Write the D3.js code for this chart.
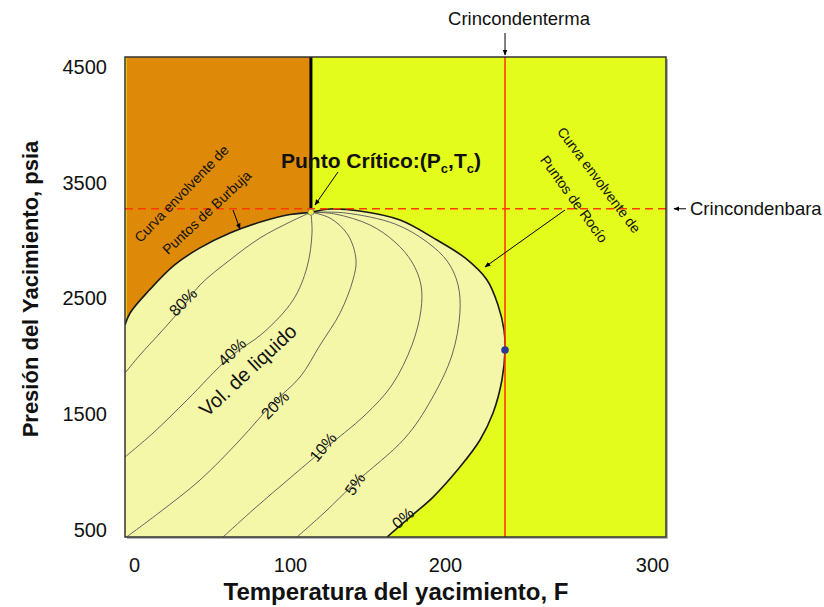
<!DOCTYPE html>
<html>
<head>
<meta charset="utf-8">
<script src="https://cdn.jsdelivr.net/npm/d3@7"></script>
<style>
  body { margin: 0; background: #fff; }
  svg text { font-family: "Liberation Sans", Arial, sans-serif; }
</style>
</head>
<body>
<div id="chart"></div>
<script>
// --- data: [temperature F, pressure psia]
var bubblePts = [[-6,2270],[-2.6,2375],[10,2575],[26,2790],[42,2935],[61.5,3065],[81,3160],[100,3225],[113.5,3245]];
var dewPts = [[113.5,3245],[125.8,3273],[145,3256],[171,3178],[194.8,3005],[209.7,2850],[220.3,2660],[225.6,2444],
              [228.5,2228],[229,2055],[227.5,1796],[223.2,1511],[216.9,1278],[207.2,1044],[192.3,785],[177.4,612],[162.6,440]];
var q80 = [[113.5,3245],[100,3161],[80.8,3023],[61.5,2833],[42.3,2617],[31.4,2427],[16.7,2202],[3.8,2012],[-6,1856]];
var q40 = [[113.5,3245],[114.2,3066],[111,2772],[102,2487],[82.7,2202],[61.5,1995],[34,1623],[12.2,1338],[-6,1131]];
var q20 = [[113.5,3245],[125.8,3195],[137.4,3049],[142.6,2833],[140.6,2660],[132.3,2375],[119.4,2098],[106.5,1822],
           [89.1,1597],[67.9,1278],[42.3,932],[16.7,656],[-5,440]];
var q10 = [[113.5,3245],[129,3230],[151.6,3135],[167.7,2988],[178.7,2815],[184.5,2617],[184.5,2401],[178.7,2098],
           [165.8,1753],[148.4,1493],[121.3,1191],[100,949],[77.6,690],[57.1,440]];
var q5 = [[113.5,3245],[135.5,3239],[167.7,3144],[188.4,2988],[201.4,2815],[206.3,2617],[207.2,2375],[203.4,2012],
          [191,1623],[174.2,1295],[141.9,906],[122.6,656],[104.5,440]];
var qualityLabels = ["80%","40%","20%","10%","5%","0%"];
var critical = [113.5,3245];
var cricondenbar = 3275;
var cricondentherm = 229;
var cricondenthermP = 2055;
var xTicks = [0,100,200,300];
var yTicks = [500,1500,2500,3500,4500];

var svg = d3.select("#chart").append("svg")
    .attr("width",824)
    .attr("height",607);

// x labels on the picture are not evenly spaced, so the scale is piecewise
var x = d3.scaleLinear()
    .domain([-6,0,100,200,300,307])
    .range([125,134,290,445,652,666]);
var y = d3.scaleLinear()
    .domain([440,4586])
    .range([537,57]);

var pLeft = x(-6), pRight = x(307), pTop = y(4586), pBottom = y(440);

var defs = svg.append("defs");
defs.append("clipPath").attr("id","plotclip")
    .append("rect").attr("x",pLeft).attr("y",pTop).attr("width",pRight-pLeft).attr("height",pBottom-pTop);
defs.append("marker")
    .attr("id","arrow")
    .attr("viewBox","0 0 10 10")
    .attr("refX",9).attr("refY",5)
    .attr("markerWidth",6).attr("markerHeight",6)
    .attr("orient","auto")
    .append("path").attr("d","M0,1 L10,5 L0,9 z").attr("fill","#000");

// shadow + backgrounds
svg.append("rect").attr("x",pLeft+2).attr("y",pTop+2).attr("width",pRight-pLeft).attr("height",pBottom-pTop).attr("fill","#b5b5b5");
var plot = svg.append("g").attr("clip-path","url(#plotclip)");
plot.append("rect").attr("x",pLeft).attr("y",pTop).attr("width",pRight-pLeft).attr("height",pBottom-pTop).attr("fill","#e4fc1c");
plot.append("rect").attr("x",pLeft+1.5).attr("y",pTop).attr("width",x(critical[0])-pLeft-1.5).attr("height",pBottom-pTop).attr("fill","#de8a08");

var line = d3.line()
    .x(function(d){ return x(d[0]); })
    .y(function(d){ return y(d[1]); })
    .curve(d3.curveCatmullRom.alpha(0.5));

var envelope = bubblePts.concat(dewPts.slice(1));
plot.append("path")
    .attr("d", line(envelope) + "L" + x(-6) + "," + y(440) + "Z")
    .attr("fill","#f4f6a8");

// quality lines
var qLines = [q80,q40,q20,q10,q5];
plot.selectAll(".qline").data(qLines).enter().append("path")
    .attr("class","qline")
    .attr("d",line)
    .attr("fill","none")
    .attr("stroke","#555")
    .attr("stroke-width",0.9);

// envelope outline
plot.append("path")
    .attr("d",line(envelope))
    .attr("fill","none")
    .attr("stroke","#1a1a1a")
    .attr("stroke-width",1.6);

// thick black line above the critical point
plot.append("line")
    .attr("x1",x(critical[0])).attr("x2",x(critical[0]))
    .attr("y1",pTop).attr("y2",y(critical[1]))
    .attr("stroke","#000").attr("stroke-width",3);

// cricondenbar / cricondentherm
plot.append("line")
    .attr("x1",pLeft).attr("x2",pRight)
    .attr("y1",y(cricondenbar)).attr("y2",y(cricondenbar))
    .attr("stroke","#ff3a00").attr("stroke-width",1.5)
    .attr("stroke-dasharray","8,5");
plot.append("line")
    .attr("x1",x(cricondentherm)).attr("x2",x(cricondentherm))
    .attr("y1",pTop).attr("y2",pBottom)
    .attr("stroke","#ff3a00").attr("stroke-width",1.6);

plot.append("circle")
    .attr("cx",x(cricondentherm)).attr("cy",y(cricondenthermP)).attr("r",3.8)
    .attr("fill","#2a3899");
plot.append("circle")
    .attr("cx",x(critical[0])).attr("cy",y(critical[1])).attr("r",3)
    .attr("fill","#eef23a").attr("stroke","#777").attr("stroke-width",0.8);

// plot frame
svg.append("rect").attr("x",pLeft).attr("y",pTop).attr("width",pRight-pLeft).attr("height",pBottom-pTop)
    .attr("fill","none").attr("stroke","#333").attr("stroke-width",1.5);

// quality labels
var labelSpots = [[31.4,2470,-45],[62.8,2038,-45],[90.4,1580,-45],[121.3,1217,-50],[141.9,897,-55],[172.9,604,-40]];
svg.selectAll(".qlabel").data(qualityLabels).enter().append("text")
    .attr("class","qlabel")
    .attr("transform",function(d,i){ var s = labelSpots[i]; return "translate("+x(s[0])+","+y(s[1])+") rotate("+s[2]+")"; })
    .attr("text-anchor","middle")
    .attr("dy","0.35em")
    .attr("font-size",16)
    .attr("fill","#111")
    .text(function(d){ return d; });

svg.append("text")
    .attr("transform","translate("+x(73)+","+y(1880)+") rotate(-43)")
    .attr("text-anchor","middle").attr("dy","0.35em")
    .attr("font-size",20).attr("fill","#111")
    .text("Vol. de liquido");

// bubble point annotation
svg.append("text")
    .attr("transform","translate(185,197) rotate(-46)")
    .attr("text-anchor","middle")
    .attr("font-size",14).attr("fill","#111")
    .text("Curva envolvente de");
svg.append("text")
    .attr("transform","translate(210,216) rotate(-43)")
    .attr("text-anchor","middle")
    .attr("font-size",14).attr("fill","#111")
    .text("Puntos de Burbuja");
svg.append("line")
    .attr("x1",233).attr("y1",210).attr("x2",240).attr("y2",229)
    .attr("stroke","#000").attr("stroke-width",1)
    .attr("marker-end","url(#arrow)");

// dew point annotation
svg.append("text")
    .attr("transform","translate(599,180) rotate(53)")
    .attr("text-anchor","middle").attr("dy","0.35em")
    .attr("font-size",14).attr("fill","#111")
    .text("Curva envolvente de");
svg.append("text")
    .attr("transform","translate(574,199) rotate(54)")
    .attr("text-anchor","middle").attr("dy","0.35em")
    .attr("font-size",14).attr("fill","#111")
    .text("Puntos de Rocío");
svg.append("line")
    .attr("x1",565).attr("y1",210).attr("x2",485).attr("y2",267)
    .attr("stroke","#000").attr("stroke-width",1)
    .attr("marker-end","url(#arrow)");

// critical point label
var pc = svg.append("text")
    .attr("x",381).attr("y",168)
    .attr("text-anchor","middle")
    .attr("font-size",21).attr("font-weight","bold").attr("fill","#111");
pc.append("tspan").text("Punto Crítico:(P");
pc.append("tspan").attr("font-size",13).attr("dy",5).text("c");
pc.append("tspan").attr("dy",-5).text(",T");
pc.append("tspan").attr("font-size",13).attr("dy",5).text("c");
pc.append("tspan").attr("dy",-5).text(")");
svg.append("line")
    .attr("x1",338).attr("y1",172).attr("x2",315).attr("y2",205)
    .attr("stroke","#000").attr("stroke-width",1)
    .attr("marker-end","url(#arrow)");

// cricondentherm / cricondenbar labels
svg.append("text")
    .attr("x",x(cricondentherm)+14).attr("y",25)
    .attr("text-anchor","middle").attr("font-size",18.5).attr("fill","#111")
    .text("Crincondenterma");
svg.append("line")
    .attr("x1",x(cricondentherm)).attr("y1",33).attr("x2",x(cricondentherm)).attr("y2",55)
    .attr("stroke","#000").attr("stroke-width",1)
    .attr("marker-end","url(#arrow)");
svg.append("text")
    .attr("x",690).attr("y",y(cricondenbar)).attr("dy","0.35em")
    .attr("font-size",18.5).attr("fill","#111")
    .text("Crincondenbara");
svg.append("line")
    .attr("x1",686).attr("y1",y(cricondenbar)).attr("x2",674).attr("y2",y(cricondenbar))
    .attr("stroke","#000").attr("stroke-width",1)
    .attr("marker-end","url(#arrow)");

// axes
var yAxis = svg.append("g")
    .attr("transform","translate("+pLeft+",0)")
    .call(d3.axisLeft(y).tickValues(yTicks).tickSize(0).tickPadding(18).tickFormat(d3.format("d")));
yAxis.select(".domain").remove();
yAxis.selectAll("text").attr("font-size",20).attr("fill","#111")
    .style("font-family","'Liberation Sans', Arial, sans-serif");

var xAxis = svg.append("g")
    .attr("transform","translate(0,"+pBottom+")")
    .call(d3.axisBottom(x).tickValues(xTicks).tickSize(0).tickPadding(21).tickFormat(d3.format("d")));
xAxis.select(".domain").remove();
xAxis.selectAll("text").attr("font-size",20).attr("fill","#111")
    .style("font-family","'Liberation Sans', Arial, sans-serif");

svg.append("text")
    .attr("x",396).attr("y",600)
    .attr("text-anchor","middle")
    .attr("font-size",24).attr("font-weight","bold").attr("fill","#111")
    .text("Temperatura del yacimiento, F");
svg.append("text")
    .attr("transform","translate(38,289) rotate(-90)")
    .attr("text-anchor","middle")
    .attr("font-size",22).attr("font-weight","bold").attr("fill","#111")
    .text("Presión del Yacimiento, psia");
</script>
</body>
</html>
